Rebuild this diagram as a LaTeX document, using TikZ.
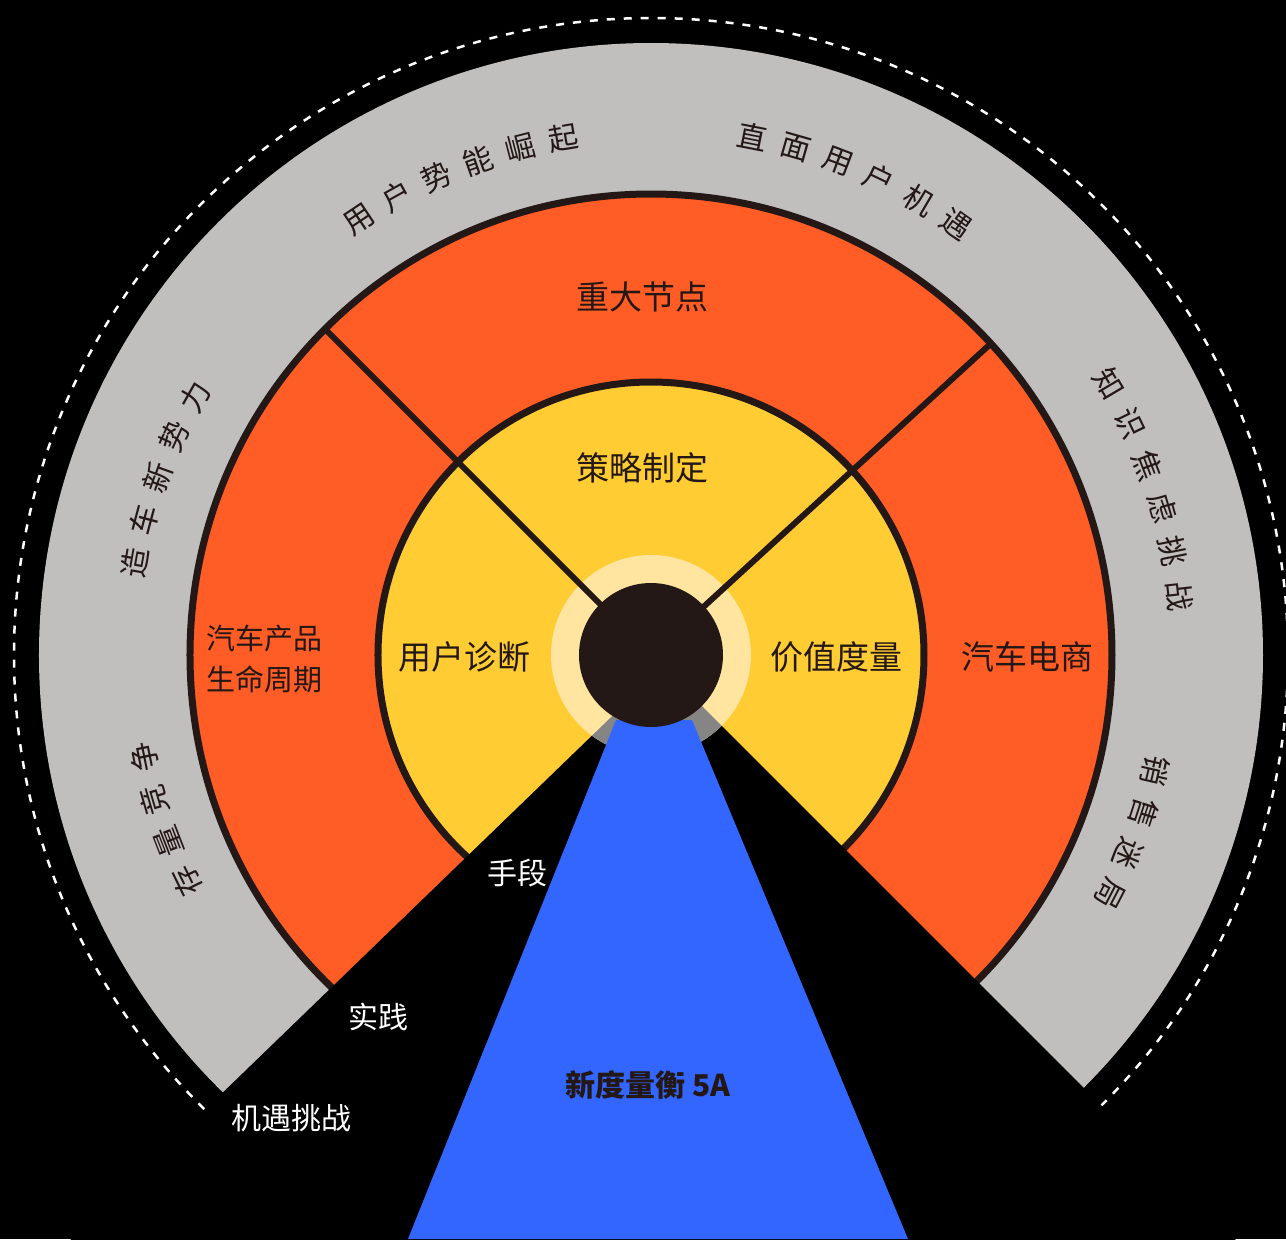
\documentclass[tikz,border=0pt]{standalone}
\usepackage{fontspec}
\newfontfamily\cjk{Noto Sans CJK SC}
\usetikzlibrary{positioning}
\definecolor{ringgray}{HTML}{C0BFBD}
\definecolor{ringorange}{HTML}{FF5C26}
\definecolor{ringyellow}{HTML}{FFCC33}
\definecolor{ringlight}{HTML}{FFE5A0}
\definecolor{inkdark}{HTML}{231815}
\definecolor{beamblue}{HTML}{3366FF}
\definecolor{shadegray}{HTML}{858585}

\tikzset{
  arctxt/.style={font=\cjk\fontsize{15}{15}\selectfont,text=inkdark,inner sep=0pt},
  ringtxt/.style={font=\cjk\fontsize{16.5}{16.5}\selectfont,text=inkdark,inner sep=0pt},
  sidetxt/.style={font=\cjk\fontsize{14.5}{20.5}\selectfont,text=inkdark,inner sep=0pt,align=center},
  steptxt/.style={font=\cjk\fontsize{15}{15}\selectfont,text=white,inner sep=0pt},
  divider/.style={draw=inkdark,line width=3pt},
  ringedge/.style={draw=inkdark,line width=3.5pt},
}

\begin{document}
\begin{tikzpicture}[x=0.5pt,y=0.5pt]
\useasboundingbox (-651,-584) rectangle (635,655);
\fill[black] (-651,-584) rectangle (635,655);
\coordinate (hub) at (0,0);
% rings
\fill[ringgray] (hub) circle (612);
\draw[white,line width=1.25pt,dash pattern=on 4pt off 4.5pt] (hub) circle (637);
\filldraw[fill=ringorange,ringedge] (hub) circle (461);
\filldraw[fill=ringyellow,ringedge] (hub) circle (273);
% cut-out at the bottom
\fill[black] (12,-12) -- (-708,-708) -- (700,-700) -- cycle;
\fill[ringlight] (hub) circle (100);
\begin{scope}
  \clip (12,-12) -- (-708,-708) -- (700,-700) -- cycle;
  \fill[shadegray] (hub) circle (100);
\end{scope}
\draw[divider] (hub) -- (135:461);
\draw[divider] (hub) -- (42.5:461);
\fill[beamblue] (-35,-65) -- (41,-65) -- (257,-584) -- (-243,-584) -- cycle;
\fill[inkdark] (hub) circle (72);

% labels on the gray ring
\foreach \ch [count=\i from 0] in {用,户,势,能,崛,起} {
  \pgfmathsetmacro\a{111.7+2.5*4.85-\i*4.85}
  \node[arctxt,rotate=\a-90] (rise-\i) at (\a:524) {\ch};
}
\foreach \ch [count=\i from 0] in {直,面,用,户,机,遇} {
  \pgfmathsetmacro\a{66.8+2.5*4.85-\i*4.85}
  \node[arctxt,rotate=\a-90] (face-\i) at (\a:528) {\ch};
}
\foreach \ch [count=\i from 0] in {知,识,焦,虑,挑,战} {
  \pgfmathsetmacro\a{18.5+2.5*4.85-\i*4.85}
  \node[arctxt,rotate=\a-90] (know-\i) at (\a:532) {\ch};
}
\foreach \ch [count=\i from 0] in {销,售,迷,局} {
  \pgfmathsetmacro\a{-20.2+1.5*4.85-\i*4.85}
  \node[arctxt,rotate=\a-90] (sale-\i) at (\a:517) {\ch};
}
\foreach \ch [count=\i from 0] in {造,车,新,势,力} {
  \pgfmathsetmacro\a{160.2+2*4.85-\i*4.85}
  \node[arctxt,rotate=\a-90] (make-\i) at (\a:524) {\ch};
}
\foreach \ch [count=\i from 0] in {存,量,竞,争} {
  \pgfmathsetmacro\a{198.7+1.5*4.85-\i*4.85}
  \node[arctxt,rotate=\a-90] (stock-\i) at (\a:517) {\ch};
}

% orange ring
\node[ringtxt] (node-top) at (-8,358) {重大节点};
\node[sidetxt] (life) at (-386,-4) {汽车产品\\生命周期};
\node[ringtxt] (ecom) at (376,-2) {汽车电商};
% yellow ring
\node[ringtxt] (plan) at (-8,187) {策略制定};
\node[ringtxt] (diag) at (-186,-2) {用户诊断};
\node[ringtxt] (value) at (186,-2) {价值度量};
% bottom
\node[steptxt] (means) at (-133,-218) {手段};
\node[steptxt] (practice) at (-272,-362) {实践};
\node[steptxt] (chance) at (-359,-463) {机遇挑战};
\node[font=\cjk\bfseries\fontsize{15}{15}\selectfont,text=inkdark,inner sep=0pt] (fivea) at (-3,-430) {新度量衡 5A};
\end{tikzpicture}
\end{document}
